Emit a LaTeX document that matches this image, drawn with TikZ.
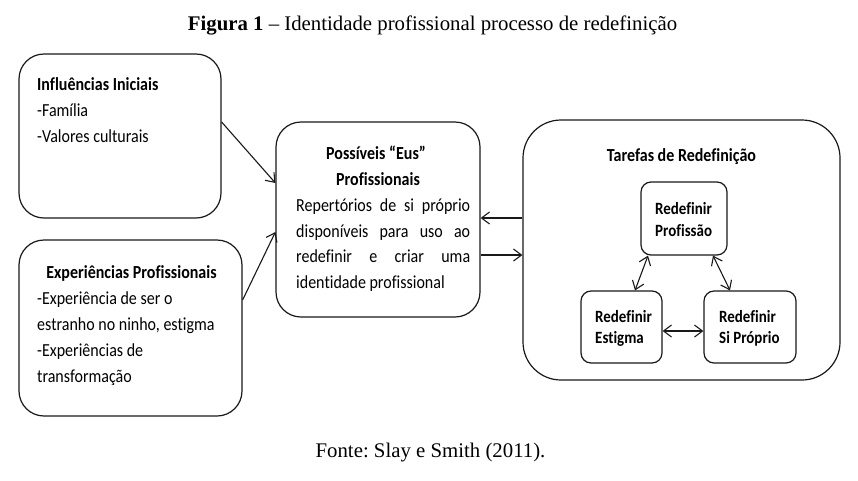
\documentclass[tikz,border=0pt]{standalone}
\usepackage{fontspec}
\setmainfont{Carlito}[FakeStretch=0.87,Ligatures=NoCommon]
\newfontfamily\tnr{Liberation Serif}
\usetikzlibrary{arrows.meta}
\tikzset{
  rbox/.style={draw=black!90, line width=1.2pt, rounded corners=#1, inner sep=0pt},
  rbox/.default=25pt,
  conn/.style={line width=1.1pt, draw=black!90, -{Straight Barb[length=8pt,width=12pt]}},
  dconn/.style={line width=1.1pt, draw=black!90, {Straight Barb[length=8pt,width=12pt]}-{Straight Barb[length=8pt,width=12pt]}},
  txt/.style={inner sep=0pt, anchor=base west, font=\fontsize{18.4}{22}\selectfont},
  txtb/.style={txt, font=\fontsize{18.4}{22}\selectfont\bfseries},
  ctxtb/.style={txtb, anchor=base},
  stxt/.style={inner sep=0pt, anchor=base west, font=\fontsize{17.2}{21}\selectfont\bfseries},
  serif/.style={inner sep=0pt, anchor=base, font=\tnr\frenchspacing\fontsize{20.8}{24}\selectfont}
}
\begin{document}
\begin{tikzpicture}[x=1pt,y=-1pt]
\useasboundingbox (0,0) rectangle (858,480);
\fill[white] (0,0) rectangle (858,480);

% title and source
\node[serif] (title) at (432.5,30) {\textbf{Figura 1} – Identidade profissional processo de redefinição};
\node[serif] (fonte) at (430.5,457) {Fonte: Slay e Smith (2011).};

% boxes
\node[rbox, minimum width=202pt, minimum height=164pt] (A) at (120,136) {};
\node[rbox, minimum width=223pt, minimum height=176pt] (B) at (130.5,328) {};
\node[rbox, minimum width=204pt, minimum height=195pt] (C) at (378,219.5) {};
\node[rbox=38pt, minimum width=317pt, minimum height=260pt] (D) at (681.5,250) {};
\node[rbox=10pt, minimum width=86pt, minimum height=73pt] (P) at (684,218.5) {};
\node[rbox=10pt, minimum width=81pt, minimum height=72pt] (E) at (621.5,327) {};
\node[rbox=10pt, minimum width=92pt, minimum height=72pt] (S) at (750,327) {};

% texts A
\node[txtb] (a1) at (37,90) {Influências Iniciais};
\node[txt] (a2) at (37,116) {-Família};
\node[txt] (a3) at (37,142) {-Valores culturais};

% texts B
\node[ctxtb] (b1) at (131.5,278) {Experiências Profissionais};
\node[txt] (b2) at (37,304) {-Experiência de ser o};
\node[txt] (b3) at (37,330) {estranho no ninho, estigma};
\node[txt] (b4) at (37,356) {-Experiências de};
\node[txt] (b5) at (37,382) {transformação};

% texts C
\node[ctxtb] (c1) at (376,159) {Possíveis “Eus”};
\node[ctxtb] (c2) at (378,185) {Profissionais};
\node[txt] (c3) at (296,211) {\makebox[174pt][s]{Repertórios de si próprio}};
\node[txt] (c4) at (296,237) {\makebox[174pt][s]{disponíveis para uso ao}};
\node[txt] (c5) at (296,262) {\makebox[174pt][s]{redefinir e criar uma}};
\node[txt] (c6) at (296,288) {identidade profissional};

% texts D
\node[ctxtb] (d1) at (681.5,161) {Tarefas de Redefinição};
\node[stxt] (p1) at (655,214) {Redefinir};
\node[stxt] (p2) at (655,236) {Profissão};
\node[stxt] (e1) at (595,322) {Redefinir};
\node[stxt] (e2) at (595,343) {Estigma};
\node[stxt] (s1) at (719,322) {Redefinir};
\node[stxt] (s2) at (719,343) {Si Próprio};

% connectors
\draw[conn] ([yshift=14pt]A.east) -- ([yshift=36.5pt]C.west);
\draw[conn] ([yshift=28pt]B.east) -- ([yshift=-12.5pt]C.west);
\draw[conn] ([yshift=32pt]D.west) -- ([yshift=1.5pt]C.east);
\draw[conn] ([yshift=-35.5pt]C.east) -- ([yshift=-5pt]D.west);
\draw[dconn] ([xshift=-36pt]P.south) -- ([xshift=13.5pt]E.north);
\draw[dconn] ([xshift=29pt]P.south) -- ([xshift=-20pt]S.north);
\draw[dconn] ([yshift=-4pt]E.east) -- ([yshift=-4pt]S.west);
\end{tikzpicture}
\end{document}
